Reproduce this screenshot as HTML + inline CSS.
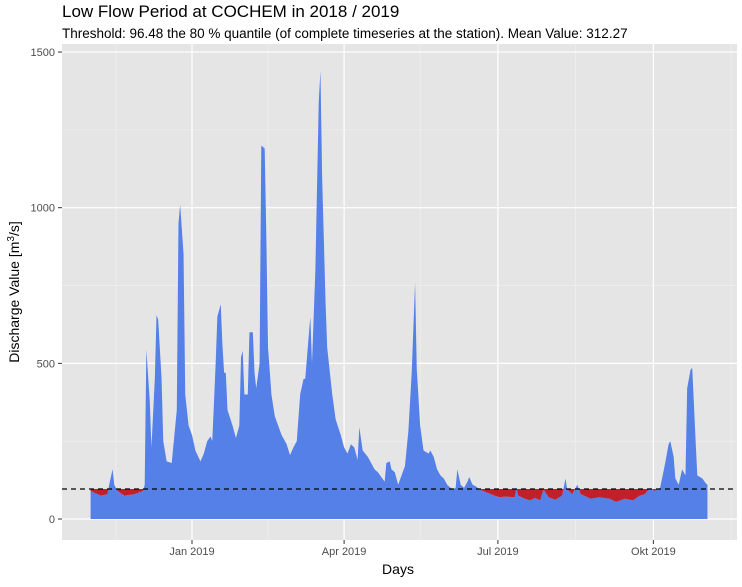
<!DOCTYPE html>
<html><head><meta charset="utf-8"><style>
body{margin:0;background:#fff;font-family:"Liberation Sans",Arial,sans-serif}
svg text{font-family:"Liberation Sans",Arial,sans-serif}
</style></head><body>
<svg id="chart" width="742" height="582" viewBox="0 0 742 582">
<text x="62" y="17" font-size="17" fill="#000">Low Flow Period at COCHEM in 2018 / 2019</text>
<text x="62" y="38" font-size="13.5" fill="#000">Threshold: 96.48 the 80 % quantile (of complete timeseries at the station). Mean Value: 312.27</text>
<rect x="62" y="44" width="675" height="496" fill="#e5e5e5"/>
<g id="grid"></g>
<g id="marks"></g>
<g id="axes"></g>
<text x="398" y="574" font-size="14" text-anchor="middle">Days</text>
<text transform="translate(19,292) rotate(-90)" font-size="14" text-anchor="middle">Discharge Value [m<tspan dy="-5" font-size="10">3</tspan><tspan dy="5">/s]</tspan></text>
</svg>
<script>
const days = [-60,-54,-50,-49,-47,-46,-44,-40,-34,-29,-28,-27,-25,-24,-22,-21,-20,-18,-17,-15,-12,-9,-8,-7,-5,-4,-2,0,2,5,7,9,11,12,14,15,17,18,19,20,21,24,26,28,29,30,31,33,34,36,37,38,40,41,43,44,45,47,49,51,53,56,58,60,62,64,66,67,70,71,73,75,76,77,79,80,83,85,88,90,92,94,96,98,99,101,104,106,108,110,112,114,115,117,118,120,122,124,126,128,130,132,133,135,137,140,141,143,145,147,149,151,154,156,157,159,161,163,164,166,168,170,173,176,179,182,185,191,192,193,197,200,203,206,208,211,215,219,221,222,225,228,230,236,241,247,251,256,261,265,268,271,274,275,277,280,282,283,285,286,288,290,292,293,295,296,298,299,302,304,305];
const discharge = [90,75,80,110,160,110,90,75,80,90,110,545,380,230,450,655,640,450,250,185,180,350,950,1010,850,400,300,270,220,185,210,250,265,250,500,650,690,560,470,470,350,300,260,300,520,540,400,400,600,600,470,420,500,1200,1190,900,550,400,330,300,270,240,205,230,250,400,450,450,650,500,800,1340,1440,1100,700,550,400,320,270,230,210,240,230,190,295,220,200,180,160,150,135,120,180,185,160,150,110,140,170,280,470,760,480,300,220,210,220,200,160,140,130,110,95,100,160,110,100,120,135,110,105,95,88,82,75,70,72,70,100,75,65,60,68,60,95,70,62,75,130,95,80,110,80,65,70,65,55,65,60,75,80,100,90,95,100,180,240,250,200,130,110,160,140,420,480,485,250,140,130,115,110];
const threshold = 96.48;
const yTicks = [0,500,1000,1500];
const yMinor = [250,750,1250];
const xTickDays = [0,90,181,273];
const xTickLabels = ["Jan 2019","Apr 2019","Jul 2019","Okt 2019"];
const xMinorDays = [-45,45,135,227,319];

const X = d => 192 + d*1.69;
const Y = v => 519 - v*0.3113;
const NS="http://www.w3.org/2000/svg";
function mk(tag, parent, attrs){const e=document.createElementNS(NS,tag);for(const k in attrs)e.setAttribute(k,attrs[k]);parent.appendChild(e);return e;}
const grid=document.getElementById('grid'), marks=document.getElementById('marks'), axes=document.getElementById('axes');
yMinor.forEach(v=>{const l=mk('line',grid,{x1:62,x2:737,y1:Y(v),y2:Y(v),stroke:'#f2f2f2','stroke-width':0.6});

});
xMinorDays.forEach(d=>{const l=mk('line',grid,{x1:X(d),x2:X(d),y1:44,y2:540,stroke:'#f2f2f2','stroke-width':0.6});

});
yTicks.forEach(v=>{const l=mk('line',grid,{x1:62,x2:737,y1:Y(v),y2:Y(v),stroke:'#fff','stroke-width':1.2});


const t=mk('text',axes,{x:55,y:Y(v)+4,'font-size':11,'text-anchor':'end',fill:'#4d4d4d'});t.textContent=v;


const tk=mk('line',axes,{x1:58,x2:62,y1:Y(v),y2:Y(v),stroke:'#333'});

});
xTickDays.forEach((d,i)=>{const l=mk('line',grid,{x1:X(d),x2:X(d),y1:44,y2:540,stroke:'#fff','stroke-width':1.2});


const t=mk('text',axes,{x:X(d),y:555,'font-size':11,'text-anchor':'middle',fill:'#4d4d4d'});t.textContent=xTickLabels[i];


const tk=mk('line',axes,{x1:X(d),x2:X(d),y1:540,y2:544,stroke:'#333'});

});
let pts=days.map((d,i)=>X(d)+','+Y(discharge[i]));
const area=mk('polygon',marks,{points:X(days[0])+','+Y(0)+' '+pts.join(' ')+' '+X(days[days.length-1])+','+Y(0),fill:'#5580e8'});


const defs=mk('defs',marks,{});
const cp=mk('clipPath',defs,{id:'below'});
mk('rect',cp,{x:0,y:Y(threshold),width:742,height:582});
const red=mk('polygon',marks,{points:X(days[0])+','+Y(threshold)+' '+pts.join(' ')+' '+X(days[days.length-1])+','+Y(threshold),fill:'#c21f2a','clip-path':'url(#below)'});


const th=mk('line',marks,{x1:62,x2:737,y1:Y(threshold),y2:Y(threshold),stroke:'#000','stroke-width':1.2,'stroke-dasharray':'5,4'});


</script>
</body></html>
